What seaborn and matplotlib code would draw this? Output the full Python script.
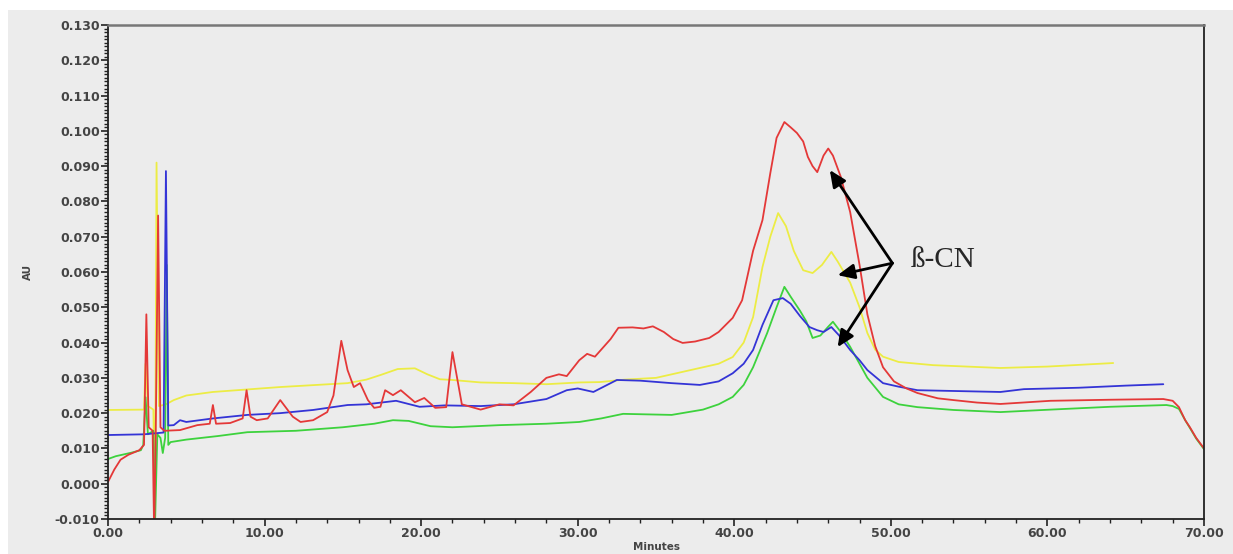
import numpy as np
import pandas as pd
import matplotlib
matplotlib.use('Agg')
import matplotlib.pyplot as plt
import seaborn as sns
from matplotlib.ticker import MultipleLocator, FormatStrFormatter
from matplotlib.patches import Rectangle

# chromatogram traces (minutes, AU)
red_t = [0.0, 0.4, 0.8, 1.3, 2.0, 2.3, 2.45, 2.6, 2.85, 2.95, 3.05, 3.2, 3.35, 3.6, 4.6, 5.7,
         6.5, 6.7, 6.9, 7.8, 8.6, 8.85, 9.1, 9.5, 10.2, 11.0, 11.8, 12.3, 13.1, 14.0, 14.4,
         14.9, 15.3, 15.7, 16.1, 16.6, 17.0, 17.4, 17.7, 18.2, 18.7, 19.6, 20.2, 20.9, 21.6,
         22.0, 22.6, 23.8, 25.0, 25.9, 27.0, 28.0, 28.8, 29.3, 30.1, 30.6, 31.1, 31.6, 32.1,
         32.6, 33.5, 34.2, 34.8, 35.5, 36.1, 36.7, 37.5, 38.4, 39.0, 39.9, 40.5, 41.2, 41.8,
         42.3, 42.7, 43.2, 43.6, 44.0, 44.4, 44.7, 45.0, 45.3, 45.7, 46.0, 46.3, 46.8, 47.4,
         48.0, 48.5, 49.0, 49.5, 50.2, 51.0, 51.7, 53.0, 54.0, 55.5, 57.0, 60.2, 64.0, 67.4,
         68.0, 68.4, 68.8, 69.1, 69.5, 70.0]
red_au = [0.0005, 0.004, 0.0068, 0.0082, 0.0095, 0.011, 0.048, 0.016, 0.015, -0.015, 0.015,
          0.076, 0.016, 0.015, 0.0152, 0.0166, 0.017, 0.0223, 0.017, 0.0172, 0.0185, 0.0265,
          0.019, 0.018, 0.0185, 0.0237, 0.019, 0.0175, 0.018, 0.0203, 0.025, 0.0405, 0.0322,
          0.0274, 0.0285, 0.0237, 0.0215, 0.0218, 0.0265, 0.0251, 0.0265, 0.0231, 0.0243,
          0.0215, 0.0217, 0.0373, 0.0225, 0.021, 0.0225, 0.0222, 0.026, 0.030, 0.031, 0.0305,
          0.035, 0.0368, 0.036, 0.0385, 0.041, 0.0442, 0.0443, 0.0440, 0.0446, 0.0430, 0.0410,
          0.0399, 0.0403, 0.0413, 0.043, 0.047, 0.052, 0.066, 0.0747, 0.088, 0.098, 0.1025,
          0.1010, 0.0994, 0.097, 0.0926, 0.090, 0.0883, 0.093, 0.095, 0.093, 0.087, 0.077,
          0.062, 0.048, 0.039, 0.033, 0.029, 0.027, 0.0257, 0.0242, 0.0237, 0.023, 0.0226,
          0.0235, 0.0238, 0.0240, 0.0235, 0.0217, 0.018, 0.016, 0.013, 0.010]

yellow_t = [0.0, 2.3, 2.4, 2.55, 2.9, 3.0, 3.1, 3.25, 3.7, 4.2, 5.0, 6.7, 11.0, 15.3, 16.5,
            17.4, 18.5, 19.6, 20.4, 21.2, 22.0, 23.8, 25.9, 28.0, 30.1, 31.4, 33.0, 35.0,
            37.8, 39.0, 39.9, 40.6, 41.2, 41.8, 42.3, 42.8, 43.3, 43.8, 44.4, 45.0, 45.6,
            46.2, 46.6, 47.4, 48.0, 48.5, 49.0, 49.5, 50.5, 52.7, 57.0, 60.0, 64.2]
yellow_au = [0.0209, 0.021, 0.034, 0.022, 0.021, -0.012, 0.091, 0.022, 0.0225, 0.0237, 0.025,
             0.026, 0.0274, 0.0285, 0.0295, 0.0308, 0.0325, 0.0327, 0.031, 0.0296, 0.0294,
             0.0287, 0.0285, 0.0282, 0.0287, 0.0288, 0.0295, 0.030, 0.0328, 0.034, 0.0359,
             0.040, 0.0472, 0.0614, 0.070, 0.0767, 0.073, 0.066, 0.0605, 0.0597, 0.062, 0.0657,
             0.063, 0.057, 0.050, 0.0427, 0.038, 0.036, 0.0345, 0.0336, 0.0328, 0.0332, 0.0342]

blue_t = [0.0, 2.3, 3.55, 3.7, 3.85, 4.2, 4.6, 5.0, 6.7, 8.9, 11.0, 13.1, 15.3, 16.5, 18.4,
          19.9, 21.5, 23.8, 25.0, 25.9, 28.0, 29.3, 30.0, 31.0, 32.5, 34.0, 36.0, 37.8, 39.0,
          39.9, 40.6, 41.2, 41.8, 42.5, 43.1, 43.6, 44.2, 44.8, 45.3, 45.7, 46.2, 46.7, 47.4,
          48.0, 48.5, 49.5, 50.5, 51.7, 53.8, 57.0, 58.5, 62.0, 65.0, 67.4]
blue_au = [0.0138, 0.0140, 0.0145, 0.0886, 0.0165, 0.0166, 0.018, 0.0175, 0.0185, 0.0195,
           0.020, 0.0209, 0.0223, 0.0225, 0.0235, 0.0218, 0.0222, 0.022, 0.0223, 0.0225,
           0.024, 0.0265, 0.027, 0.026, 0.0294, 0.0292, 0.0285, 0.028, 0.029, 0.0313, 0.034,
           0.0379, 0.045, 0.052, 0.0526, 0.051, 0.0475, 0.0444, 0.0435, 0.043, 0.0444, 0.042,
           0.0379, 0.035, 0.0322, 0.0285, 0.0275, 0.0265, 0.0263, 0.026, 0.0268, 0.0272,
           0.0278, 0.0282]

green_t = [0.0, 0.5, 1.5, 2.1, 2.25, 2.4, 2.55, 2.9, 3.0, 3.15, 3.35, 3.5, 3.65, 3.75, 3.85,
           4.0, 5.0, 7.0, 8.9, 12.0, 15.0, 17.0, 18.2, 19.2, 20.6, 22.0, 25.0, 28.0, 30.1,
           31.5, 32.9, 36.0, 38.0, 39.0, 39.9, 40.6, 41.2, 42.1, 42.7, 43.2, 43.6, 44.2, 44.6,
           45.0, 45.5, 46.0, 46.3, 46.8, 47.4, 48.0, 48.5, 49.5, 50.5, 51.7, 54.0, 57.0, 60.2,
           64.0, 67.6, 68.0, 68.4, 68.8, 69.1, 69.5, 70.0]
green_au = [0.007, 0.0078, 0.0088, 0.0095, 0.011, 0.0245, 0.0140, 0.015, -0.012, 0.014, 0.013,
            0.0087, 0.013, 0.062, 0.011, 0.0118, 0.0125, 0.0135, 0.0146, 0.015, 0.016, 0.017,
            0.018, 0.0178, 0.0163, 0.016, 0.0166, 0.017, 0.0175, 0.0185, 0.0198, 0.0195, 0.021,
            0.0225, 0.0246, 0.028, 0.033, 0.0427, 0.050, 0.0558, 0.053, 0.049, 0.046, 0.0413,
            0.042, 0.0445, 0.0459, 0.043, 0.0388, 0.034, 0.030, 0.0246, 0.0225, 0.0217, 0.0209,
            0.0203, 0.021, 0.0218, 0.0223, 0.022, 0.0212, 0.018, 0.0158, 0.0128, 0.0098]

x_ticks = [0, 10, 20, 30, 40, 50, 60, 70]
y_ticks = [-0.010, 0.000, 0.010, 0.020, 0.030, 0.040, 0.050, 0.060, 0.070, 0.080, 0.090,
           0.100, 0.110, 0.120, 0.130]

# ß-CN arrows: tail point and the three heads (minutes, AU)
arrow_tail = (50.1, 0.0625)
arrow_heads = [(46.1, 0.0889), (46.6, 0.0591), (46.6, 0.0387)]

# long-form table for seaborn
traces = pd.concat([
    pd.DataFrame({'min': yellow_t, 'au': yellow_au, 'run': 'yellow'}),
    pd.DataFrame({'min': green_t, 'au': green_au, 'run': 'green'}),
    pd.DataFrame({'min': blue_t, 'au': blue_au, 'run': 'blue'}),
    pd.DataFrame({'min': red_t, 'au': red_au, 'run': 'red'}),
], ignore_index=True)
palette = {'yellow': '#ecec45', 'green': '#3dd23d', 'blue': '#3434d6', 'red': '#e43838'}

sns.set_style('white')
plt.rcParams['font.family'] = ['DejaVu Sans']

bg = '#ececec'
fig = plt.figure(figsize=(12.33, 5.54), dpi=100, facecolor='white')
fig.patches.append(Rectangle((0.0065, 0), 1, 1 - 10 / 554, transform=fig.transFigure,
                             facecolor=bg, edgecolor='none', zorder=-1))
ax = fig.add_axes([108 / 1233, 1 - 519 / 554, (1204 - 108) / 1233, (519 - 25) / 554])
ax.set_facecolor(bg)

sns.lineplot(data=traces, x='min', y='au', hue='run', palette=palette, estimator=None,
             sort=False, legend=False, lw=1.3, ax=ax)

ax.set_xlim(0, 70)
ax.set_ylim(-0.010, 0.130)
ax.set_xticks(x_ticks)
ax.set_yticks(y_ticks)
ax.xaxis.set_major_formatter(FormatStrFormatter('%.2f'))
ax.yaxis.set_major_formatter(FormatStrFormatter('%.3f'))
ax.xaxis.set_minor_locator(MultipleLocator(2))
ax.yaxis.set_minor_locator(MultipleLocator(0.001))
# seaborn's white style switches the ticks off, turn them back on
ax.tick_params(axis='both', which='both', bottom=True, left=True, top=False, right=False)
ax.tick_params(axis='both', which='major', direction='out', length=5, width=1.2,
               color='#222222', labelsize=9, labelcolor='#444444')
ax.tick_params(axis='both', which='minor', direction='out', length=3, width=1.0, color='#222222')
for lab in ax.get_xticklabels() + ax.get_yticklabels():
    lab.set_fontweight('bold')
ax.tick_params(axis='x', pad=1)
ax.tick_params(axis='y', pad=1)

for side in ['left', 'bottom', 'right']:
    ax.spines[side].set_color('#222222')
    ax.spines[side].set_linewidth(1.3)
ax.spines['top'].set_color('#777777')
ax.spines['top'].set_linewidth(1.8)

ax.set_xlabel('Minutes', fontsize=7.5, fontweight='bold', color='#444444', labelpad=1)
ax.set_ylabel('AU', fontsize=7.5, fontweight='bold', color='#444444', labelpad=16)

for head in arrow_heads:
    ax.annotate('', xy=head, xytext=arrow_tail,
                arrowprops=dict(arrowstyle='-|>,head_length=1.0,head_width=0.45', color='black',
                                lw=2.0, shrinkA=0, shrinkB=0))
ax.text(51.3, 0.0633, 'ß-CN', fontsize=21, family='Liberation Serif', va='center', ha='left')

fig.savefig('out.png', dpi=100, facecolor=fig.get_facecolor())
